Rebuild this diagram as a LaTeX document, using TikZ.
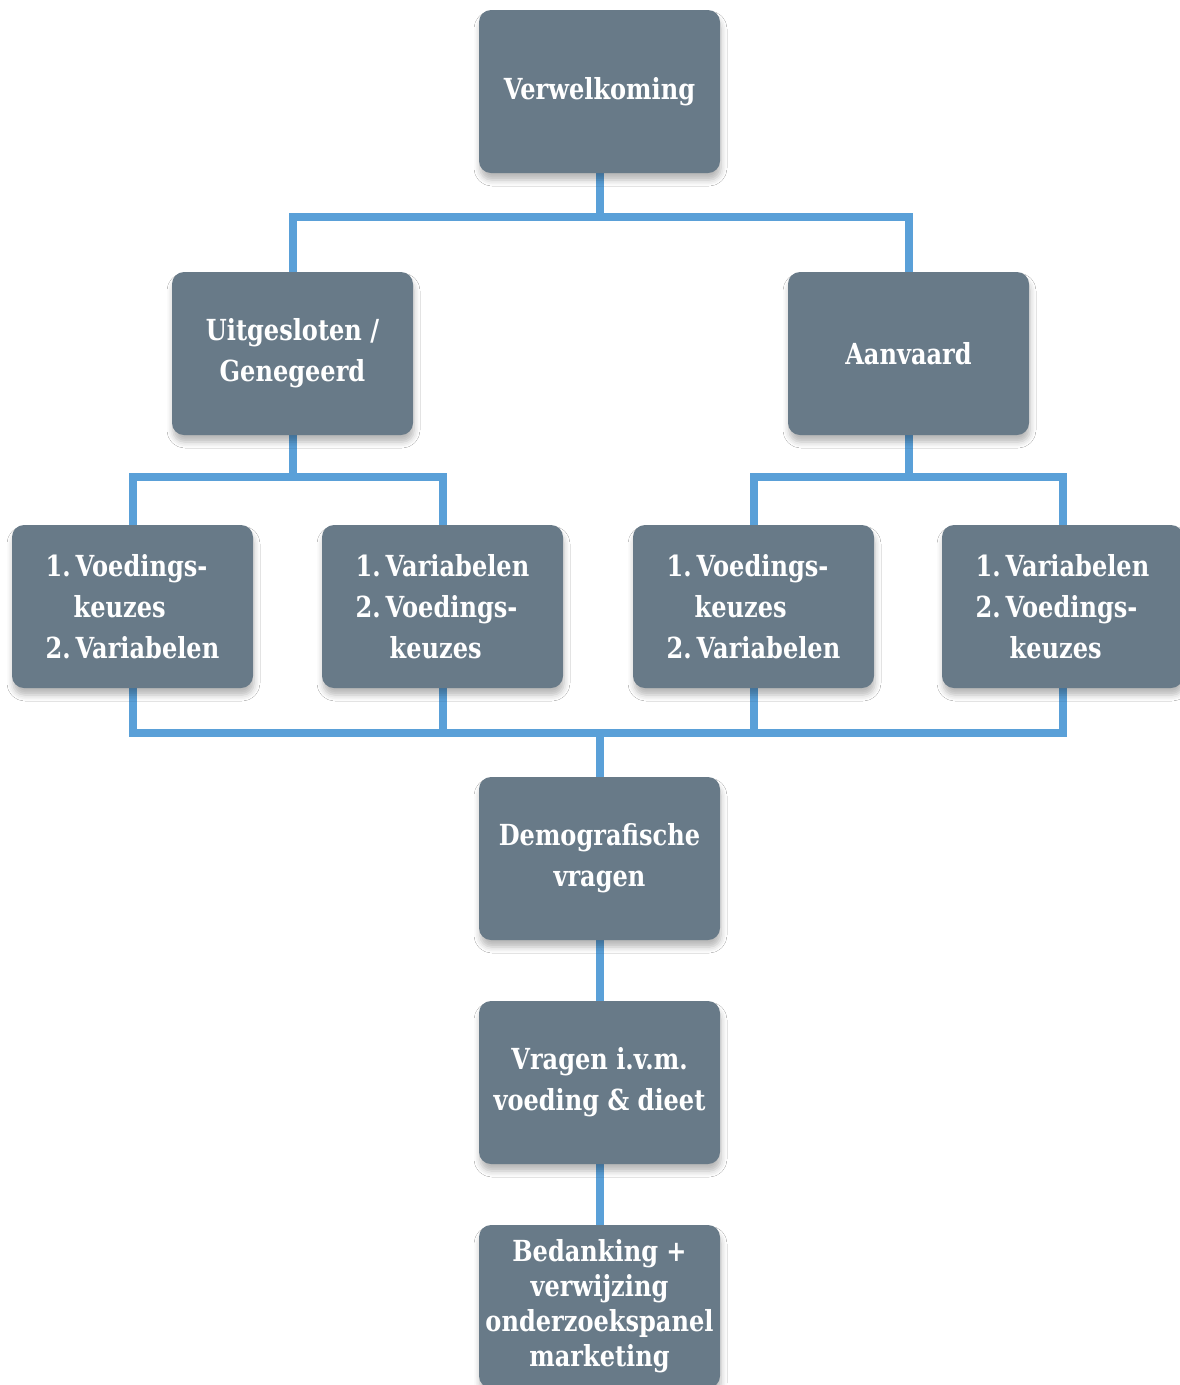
\documentclass[tikz,border=0pt]{standalone}
\usepackage{fontspec}
\setmainfont{DejaVu Serif}[FakeStretch=0.83]
\usetikzlibrary{shadows.blur,backgrounds}
\definecolor{boxgray}{RGB}{104,122,136}
\definecolor{linkblue}{RGB}{90,160,216}
\tikzset{
  stage/.style={rounded corners=12pt, fill=boxgray, minimum width=241pt,
    minimum height=163pt, text=white, align=center, inner sep=0pt,
    font=\fontsize{29}{41}\selectfont\bfseries,
    blur shadow={shadow xshift=1pt, shadow yshift=-7pt, shadow opacity=28,
      shadow blur radius=6pt}},
  link/.style={draw=linkblue, line width=8pt},
}
\begin{document}
\begin{tikzpicture}[x=1pt, y=-1pt]
  \useasboundingbox (0,0) rectangle (1180,1385);

  % boxes
  \node[stage] (wel) at (599.5,91.5) {Verwelkoming};
  \node[stage] (uit) at (292.5,353.5) {Uitgesloten /\\Genegeerd};
  \node[stage] (aan) at (908.5,353.5) {Aanvaard};

  \node[stage, align=left] (l1) at (132.5,606.5)
    {1.\,Voedings-\\\hspace*{28pt}keuzes\\2.\,Variabelen};
  \node[stage, align=left] (l2) at (442.5,606.5)
    {1.\,Variabelen\\2.\,Voedings-\\\hspace*{34pt}keuzes};
  \node[stage, align=left] (l3) at (753.5,606.5)
    {1.\,Voedings-\\\hspace*{28pt}keuzes\\2.\,Variabelen};
  \node[stage, align=left] (l4) at (1062.5,606.5)
    {1.\,Variabelen\\2.\,Voedings-\\\hspace*{34pt}keuzes};

  \node[stage] (demo) at (599.5,858.5) {Demografische\\vragen};
  \node[stage] (vra) at (599.5,1082.5) {Vragen i.v.m.\\voeding \& dieet};
  \node[stage, font=\fontsize{29}{35}\selectfont\bfseries] (bed) at (599.5,1306.5)
    {Bedanking +\\verwijzing\\onderzoekspanel\\marketing};

  % junction points of the tree
  \coordinate (j1) at (599.5,217);
  \coordinate (j2) at (292.5,477);
  \coordinate (j3) at (908.5,477);
  \coordinate (j4) at (599.5,733);

  \begin{scope}[on background layer]
    \fill[white] (0,0) rectangle (1180,1385);
    \draw[link] (wel.south) -- (j1);
    \draw[link] (uit.north) |- (j1) -| (aan.north);
    \draw[link] (uit.south) -- (j2);
    \draw[link] (l1.north) |- (j2) -| (l2.north);
    \draw[link] (aan.south) -- (j3);
    \draw[link] (l3.north) |- (j3) -| (l4.north);
    \draw[link] (l1.south) |- (j4) -| (l4.south);
    \draw[link] (l2.south) -- (l2.south |- j4);
    \draw[link] (l3.south) -- (l3.south |- j4);
    \draw[link] (j4) -- (demo.north);
    \draw[link] (demo.south) -- (vra.north);
    \draw[link] (vra.south) -- (bed.north);
  \end{scope}
\end{tikzpicture}
\end{document}
